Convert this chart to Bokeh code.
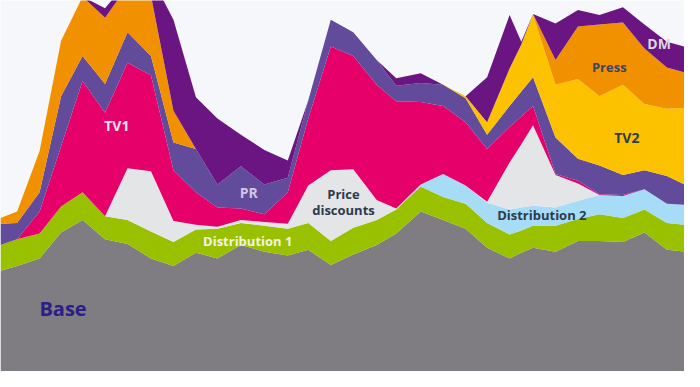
from bokeh.plotting import figure
from bokeh.models import ColumnDataSource
from bokeh.core.properties import value
from bokeh.embed import file_html
from bokeh.resources import INLINE

# time axis (arbitrary units across the period)
t = [0, 17, 40, 62, 84, 107, 130, 154, 177, 200, 222, 246, 270, 294, 315, 338,
     361, 385, 405, 430, 453, 476, 498, 521, 533, 545, 568, 591, 613, 637, 659, 682, 700]

# contributions (stacked, bottom to top)
base = [105, 110, 118, 145, 158, 138, 133, 118, 110, 124, 118, 132, 125, 121, 127, 111,
        122, 132, 144, 167, 158, 149, 129, 118, 124, 129, 125, 136, 136, 135, 145, 127, 125]
dist1 = [27, 28, 26, 27, 29, 24, 25, 28, 25, 24, 31, 23, 27, 28, 28, 25,
         28, 26, 25, 26, 24, 26, 26, 25, 23, 23, 27, 23, 28, 25, 24, 28, 28]
dist2 = [0, 0, 0, 0, 0, 0, 0, 0, 0, 0, 0, 0, 0, 0, 0, 0,
         0, 0, 0, 2, 24, 19, 21, 26, 24, 21, 19, 19, 20, 23, 21, 20, 21]
price = [0, 0, 0, 0, 0, 0, 54, 63, 22, 5, 2, 3, 4, 5, 39, 74,
         61, 21, 1, 0, 0, 0, 1, 49, 66, 84, 34, 18, 0, 0, 0, 0, 0]
tv1 = [0, 0, 23, 63, 116, 108, 110, 100, 53, 34, 20, 12, 8, 33, 70, 129,
       118, 120, 112, 86, 71, 66, 55, 37, 29, 20, 1, 3, 1, 1, 0, 0, 0]
pr = [22, 17, 20, 52, 26, 30, 32, 20, 29, 45, 24, 44, 31, 15, 19, 28,
      25, 26, 16, 20, 22, 25, 15, 22, 26, 30, 38, 23, 30, 21, 20, 29, 21]
tv2 = [0, 0, 0, 0, 0, 0, 0, 0, 0, 0, 0, 0, 0, 0, 0, 0,
       0, 0, 0, 0, 0, 2, 13, 39, 49, 65, 55, 83, 72, 94, 69, 70, 80]
press = [6, 12, 43, 58, 62, 69, 48, 63, 33, 0, 0, 0, 0, 0, 0, 0,
         0, 0, 0, 0, 0, 0, 0, 0, 0, 1, 26, 55, 75, 65, 58, 43, 37]
dm = [0, 0, 0, 0, 0, 10, 5, 20, 95, 54, 69, 33, 36, 18, 0, 0,
      0, 0, 8, 10, 0, 0, 47, 56, 3, 0, 38, 17, 10, 16, 25, 27, 27]

series = ["Base", "Distribution 1", "Distribution 2", "Price discounts",
          "TV1", "PR", "TV2", "Press", "DM"]
colors = ["#7f7c82", "#99c100", "#a6dcf6", "#e4e5e7", "#e5006a",
          "#624b9b", "#fcc200", "#f29100", "#6a1581"]

# label texts and where they sit (t, level)
labels = ["TV1", "PR", "Price", "discounts", "Distribution 1", "Distribution 2",
          "TV2", "Press", "DM", "Base"]
label_t = [119, 254, 351, 351, 253, 554, 641, 623, 674, 64]
label_v = [257, 187, 185, 168, 136, 163, 244, 318, 342, 66]
label_color = ["#ece6ee", "#cfc6e2", "#2e3a4c", "#2e3a4c", "#f2f4e6", "#2e3a4c",
               "#313a52", "#3a4660", "#dcd8e4", "#2b1d8a"]
label_size = ["14px", "14px", "13px", "13px", "13px", "13px", "14px", "13px", "14px", "20px"]

src = ColumnDataSource(dict(t=t, **dict(zip(series, [base, dist1, dist2, price, tv1, pr, tv2, press, dm]))))

p = figure(width=684, height=371, x_range=(0, 700), y_range=(0, 387),
           output_backend="svg", toolbar_location=None, min_border=0)
p.axis.visible = False
p.grid.visible = False
p.outline_line_color = None
p.background_fill_color = "#f5f7fb"
p.border_fill_color = "#f5f7fb"

p.varea_stack(stackers=series, x="t", color=colors, source=src)

for txt, xx, yy, c, s in zip(labels, label_t, label_v, label_color, label_size):
    p.text(x=[xx], y=[yy], text=[txt], text_font=value("Open Sans"),
           text_font_style="bold", text_font_size=s, text_color=c,
           text_align="center", text_baseline="middle")

open("out.html", "w").write(file_html(p, INLINE))
